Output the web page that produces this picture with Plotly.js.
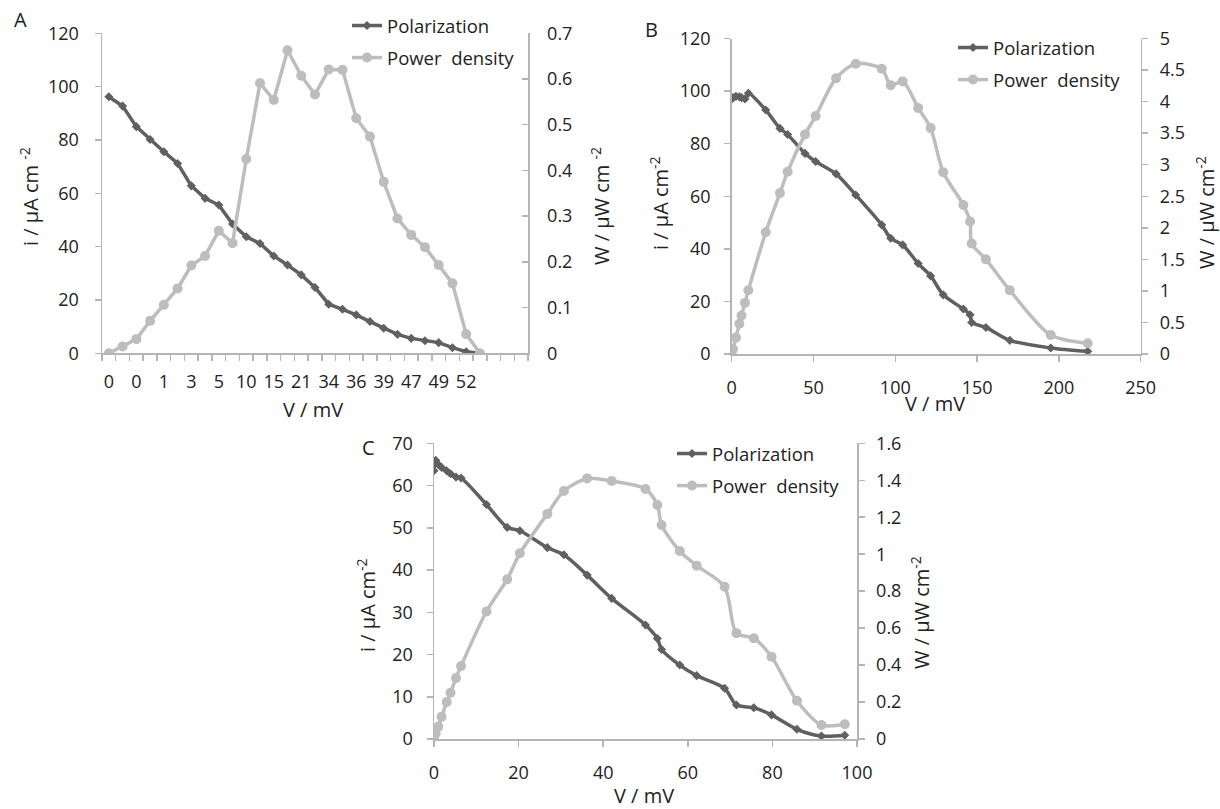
<!DOCTYPE html>
<html>
<head>
<meta charset="utf-8">
<script src="https://cdn.plot.ly/plotly-3.0.1.min.js"></script>
<style>
  html, body { margin: 0; padding: 0; background: #fff; }
  #chart { width: 1220px; height: 809px; }
</style>
</head>
<body>
<div id="chart"></div>
<script>
// ---------- Panel A (category axis, V / mV labels) ----------
const A_V_labels = ["0","0","0","1","1","2","3","4","5","5","10","14","15","20","21","23","34","35","36","38","39","42","47","48","49","50","52","53"];
const A_polarization = [96.2, 92.7, 85.0, 80.2, 75.6, 71.2, 62.8, 58.1, 55.6, 48.5, 43.7, 41.2, 36.5, 33.1, 29.4, 24.7, 18.4, 16.5, 14.4, 11.9, 9.4, 7.1, 5.6, 4.7, 4.0, 2.1, 0.6, 0.0];
const A_power = [0.0, 0.015, 0.031, 0.071, 0.106, 0.142, 0.192, 0.213, 0.268, 0.241, 0.425, 0.591, 0.554, 0.663, 0.607, 0.566, 0.621, 0.620, 0.514, 0.474, 0.375, 0.295, 0.259, 0.232, 0.193, 0.153, 0.042, 0.0];
const A_emptyCategories = 3;

// ---------- Panel B ----------
const B_V = [0, 0.8, 2.6, 4.7, 6, 8.1, 10.2, 20.8, 29.5, 34.2, 44.8, 51.3, 63.8, 75.8, 91.7, 97.2, 104.5, 114, 121.6, 129.3, 141.6, 145.7, 146.7, 155.4, 170, 195, 217.6];
const B_polarization = [97, 97.5, 98, 97.8, 97.5, 97, 99.2, 92.8, 85.8, 83.5, 76.3, 73.2, 68.5, 60.5, 49.1, 44, 41.5, 34.4, 29.7, 22.5, 17.1, 14.9, 12, 10.1, 5.2, 2.3, 1];
const B_power = [0, 0.08, 0.26, 0.48, 0.61, 0.81, 1.01, 1.93, 2.55, 2.89, 3.48, 3.77, 4.37, 4.6, 4.52, 4.26, 4.32, 3.9, 3.58, 2.88, 2.36, 2.1, 1.75, 1.5, 1.01, 0.30, 0.17];

// ---------- Panel C ----------
const C_V = [0, 0.4, 1, 1.8, 3, 3.9, 5.2, 6.4, 12.4, 17.3, 20.3, 26.8, 30.7, 36.2, 42, 50, 52.8, 53.8, 58.1, 62.1, 68.7, 71.5, 75.6, 79.8, 85.8, 91.6, 97.1];
const C_polarization = [63.5, 66, 65, 64.3, 63.5, 62.8, 62, 61.8, 55.5, 50.1, 49.3, 45.3, 43.6, 38.8, 33.3, 27, 23.8, 21.2, 17.5, 15, 12, 8.05, 7.4, 5.7, 2.3, 0.7, 0.9];
const C_power = [0, 0.03, 0.067, 0.12, 0.2, 0.25, 0.33, 0.395, 0.69, 0.864, 1.005, 1.218, 1.342, 1.41, 1.396, 1.353, 1.266, 1.158, 1.017, 0.938, 0.824, 0.572, 0.545, 0.445, 0.207, 0.076, 0.08];

const seriesNames = ["Polarization", "Power\u00a0 density"];
const panelLetters = ["A", "B", "C"];
const xTitle = "V / mV";
const yLeftTitles = ["i / µA cm <sup>-2</sup>", "i / µA cm<sup>-2</sup>", "i / µA cm<sup>-2</sup>"];
const yRightTitles = ["W / µW cm <sup>-2</sup>", "W / µW cm<sup>-2</sup>", "W / µW cm<sup>-2</sup>"];

// ---------- styling ----------
const FONT = "'Open Sans', Lato, sans-serif";
const DARK = "#606060";
const LIGHT = "#bdbdbd";
const AXIS = "#b5b5b5";
const TXT = "#222222";
const W = 1220, H = 809;
const px = v => v / W;
const py = v => 1 - v / H;

const A_x = A_V_labels.map((_, i) => i);
const A_tickvals = A_x.filter(i => i % 2 === 0);
const A_ticktext = A_tickvals.map(i => A_V_labels[i]);

function polTrace(x, y, xa, ya, leg, shape) {
  return {x, y, xaxis: xa, yaxis: ya, type: "scatter", mode: "lines+markers",
    name: seriesNames[0], legend: leg, legendgroup: leg + "p",
    line: {color: DARK, width: 3.5, shape: shape, smoothing: 0.8},
    marker: {symbol: "diamond", size: 7, color: DARK}};
}
function powTrace(x, y, xa, ya, leg, shape) {
  return {x, y, xaxis: xa, yaxis: ya, type: "scatter", mode: "lines+markers",
    name: seriesNames[1], legend: leg, legendgroup: leg + "w",
    line: {color: LIGHT, width: 3.5, shape: shape, smoothing: 0.8},
    marker: {symbol: "circle", size: 10, color: LIGHT}};
}

const data = [
  polTrace(A_x, A_polarization, "x", "y", "legend", "linear"),
  powTrace(A_x, A_power, "x", "y2", "legend", "linear"),
  polTrace(B_V, B_polarization, "x2", "y3", "legend2", "spline"),
  powTrace(B_V, B_power, "x2", "y4", "legend2", "spline"),
  polTrace(C_V, C_polarization, "x3", "y5", "legend3", "spline"),
  powTrace(C_V, C_power, "x3", "y6", "legend3", "spline")
];

const tickFont = {family: FONT, size: 18, color: TXT};

function baseAxis(extra) {
  return Object.assign({
    showline: true, linecolor: AXIS, linewidth: 1.5, showgrid: false, zeroline: false,
    ticks: "outside", ticklen: 6, tickcolor: AXIS, tickwidth: 1.5,
    tickfont: tickFont, fixedrange: true
  }, extra);
}

function legendAt(x, y) {
  return {x: px(x), y: py(y), xanchor: "left", yanchor: "top",
    bgcolor: "rgba(0,0,0,0)", font: {family: FONT, size: 18.5, color: TXT},
    tracegroupgap: 5, itemwidth: 30};
}

function label(t, x, y, angle, size) {
  return {text: t, x: px(x), y: py(y), xref: "paper", yref: "paper", xanchor: "center", yanchor: "middle",
    textangle: angle || 0, showarrow: false, borderpad: 0, font: {family: FONT, size: size || 20, color: TXT}};
}

const layout = {
  width: W, height: H,
  margin: {l: 0, r: 0, t: 0, b: 0},
  paper_bgcolor: "#ffffff", plot_bgcolor: "rgba(0,0,0,0)",
  font: {family: FONT, color: TXT},
  showlegend: true,
  // Panel A
  xaxis: baseAxis({domain: [px(102), px(528)], anchor: "y", range: [-0.5, A_x.length - 0.5 + A_emptyCategories],
    tickmode: "array", tickvals: A_tickvals, ticktext: A_ticktext, ticks: "", ticklabelstandoff: 12,
    minor: {tickmode: "linear", tick0: 0.5, dtick: 1, ticks: "outside", ticklen: 6, tickcolor: AXIS, tickwidth: 1.5}}),
  yaxis: baseAxis({domain: [py(353.3), py(33.3)], anchor: "x", range: [0, 120], dtick: 20, ticklabelstandoff: 12}),
  yaxis2: baseAxis({overlaying: "y", side: "right", anchor: "x", range: [0, 0.7], dtick: 0.1, ticks: "inside", ticklabelstandoff: 14}),
  // Panel B
  xaxis2: baseAxis({domain: [px(731.7), px(1140.7)], anchor: "y3", range: [0, 250], dtick: 50, ticklabelstandoff: 11}),
  yaxis3: baseAxis({domain: [py(354), py(38.5)], anchor: "x2", range: [0, 120], dtick: 20, ticklabelstandoff: 10}),
  yaxis4: baseAxis({overlaying: "y3", side: "right", anchor: "x2", range: [0, 5], dtick: 0.5, ticklabelstandoff: 8}),
  // Panel C
  xaxis3: baseAxis({domain: [px(434), px(857)], anchor: "y5", range: [0, 100], dtick: 20, ticklabelstandoff: 11}),
  yaxis5: baseAxis({domain: [py(739), py(443.3)], anchor: "x3", range: [0, 70], dtick: 10, ticklabelstandoff: 10}),
  yaxis6: baseAxis({overlaying: "y5", side: "right", anchor: "x3", range: [0, 1.6], dtick: 0.2, ticklabelstandoff: 8}),
  legend: legendAt(347, 7),
  legend2: legendAt(953, 29),
  legend3: legendAt(672, 435),
  annotations: [
    label(panelLetters[0], 20, 20),
    label(panelLetters[1], 651, 30),
    label(panelLetters[2], 368, 447),
    label(xTitle, 313, 409),
    label(xTitle, 935, 403),
    label(xTitle, 644, 795),
    label(yLeftTitles[0], 29, 197, -90),
    label(yLeftTitles[1], 660, 203, -90),
    label(yLeftTitles[2], 366, 605, -90),
    label(yRightTitles[0], 600, 206, -90),
    label(yRightTitles[1], 1205, 213, -90),
    label(yRightTitles[2], 920, 612, -90)
  ]
};

Plotly.newPlot("chart", data, layout, {displayModeBar: false, staticPlot: true});
</script>
</body>
</html>
